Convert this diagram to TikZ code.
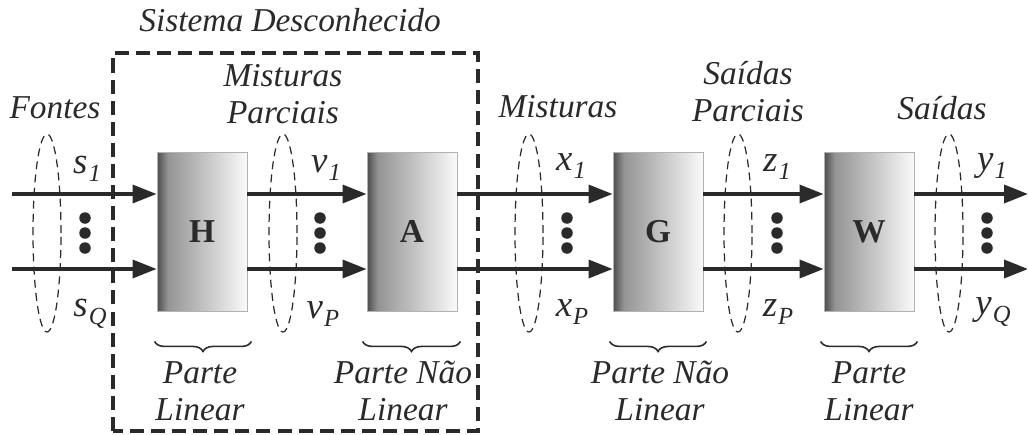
\documentclass[tikz,border=0pt]{standalone}
\usepackage{fontspec}
\setmainfont{Liberation Serif}
\usetikzlibrary{arrows.meta,decorations.pathreplacing,positioning}

\definecolor{ink}{HTML}{2A2A2A}
\newcommand{\sg}[2]{#1\kern.03em\raisebox{-.5ex}{\fontsize{14}{14}\selectfont #2}}

% sombreado dos blocos: escuro na borda esquerda, claro a direita
\pgfdeclarehorizontalshading{blkshade}{100bp}{color(0bp)=(black!70); color(25bp)=(black!70);
  color(31bp)=(black!42); color(75bp)=(black!2); color(100bp)=(black!2)}

\tikzset{
  blk/.style={draw=gray!60,line width=0.5pt,minimum width=1.8cm,minimum height=3.18cm,
    shading=blkshade,text=ink,font=\fontsize{19}{19}\selectfont\bfseries},
  sig/.style={draw=ink,line width=2pt,-{Triangle[length=0.48cm,width=0.36cm]}},
  grp/.style={draw=ink,line width=0.7pt,dash pattern=on 4.5pt off 3pt},
  lbl/.style={font=\fontsize{19}{21}\selectfont\itshape,text=ink,align=center},
  var/.style={font=\fontsize{21}{21}\selectfont\itshape,text=ink,inner sep=0pt},
  brc/.style={draw=ink,line width=0.9pt,decorate,decoration={brace,amplitude=0.2cm,mirror}},
}

\begin{document}
\begin{tikzpicture}
    \useasboundingbox (0,0) rectangle (20.56,8.68);

    % sistema desconhecido
    \draw[ink,line width=2pt,dash pattern=on 8pt off 4pt] (2.26,0.06) rectangle (9.56,7.62);
    \node[lbl] (sis) at (5.8,8.28) {Sistema Desconhecido};

    % blocos
    \node[blk] (H) at (4.04,4.05) {H};
    \node[blk] (A) at (8.24,4.05) {A};
    \node[blk] (G) at (13.16,4.05) {G};
    \node[blk] (W) at (17.38,4.05) {W};

    \coordinate (s1) at (0.24,4.8);
    \coordinate (sQ) at (0.24,3.3);
    \coordinate (y1) at (20.56,4.8);
    \coordinate (yQ) at (20.56,3.3);

    % sinais
    \draw[sig] (s1) -- ([yshift=.75cm]H.west);
    \draw[sig] (sQ) -- ([yshift=-.75cm]H.west);
    \draw[sig] ([yshift=.75cm]H.east) -- ([yshift=.75cm]A.west);
    \draw[sig] ([yshift=-.75cm]H.east) -- ([yshift=-.75cm]A.west);
    \draw[sig] ([yshift=.75cm]A.east) -- ([yshift=.75cm]G.west);
    \draw[sig] ([yshift=-.75cm]A.east) -- ([yshift=-.75cm]G.west);
    \draw[sig] ([yshift=.75cm]G.east) -- ([yshift=.75cm]W.west);
    \draw[sig] ([yshift=-.75cm]G.east) -- ([yshift=-.75cm]W.west);
    \draw[sig] ([yshift=.75cm]W.east) -- (y1);
    \draw[sig] ([yshift=-.75cm]W.east) -- (yQ);

    % conjuntos de sinais
    \foreach \x in {0.94,5.66,10.58,14.76,18.98}
        \draw[grp] (\x,4.02) ellipse (0.28 and 1.98);
    \foreach \x in {1.7,6.4,11.34,15.54,19.74}
        \foreach \y in {4.32,4.02,3.72}
            \fill[ink] (\x,\y) circle (0.115);

    \node[var] (ls1) at (1.74,5.3) {\sg{s}{1}};
    \node[var] (lsQ) at (1.8,2.4) {\sg{s}{Q}};
    \node[var] (lv1) at (6.52,5.32) {\sg{v}{1}};
    \node[var] (lvP) at (6.46,2.4) {\sg{v}{P}};
    \node[var] (lx1) at (11.42,5.36) {\sg{x}{1}};
    \node[var] (lxP) at (11.44,2.44) {\sg{x}{P}};
    \node[var] (lz1) at (15.54,5.34) {\sg{z}{1}};
    \node[var] (lzP) at (15.56,2.44) {\sg{z}{P}};
    \node[var] (ly1) at (19.84,5.36) {\sg{y}{1}};
    \node[var] (lyQ) at (19.86,2.44) {\sg{y}{Q}};

    \node[lbl] (fon) at (1.1,6.52) {Fontes};
    \node[lbl] (mpa) at (5.66,6.8) {Misturas\\Parciais};
    \node[lbl] (mis) at (11.16,6.54) {Misturas};
    \node[lbl] (spa) at (14.96,6.84) {Saídas\\Parciais};
    \node[lbl] (sai) at (18.84,6.52) {Saídas};

    % partes
    \draw[brc] ([xshift=-.04cm,yshift=-.6cm]H.south west) -- ([xshift=.08cm,yshift=-.6cm]H.south east);
    \draw[brc] ([xshift=-.08cm,yshift=-.6cm]A.south west) -- ([xshift=.06cm,yshift=-.6cm]A.south east);
    \draw[brc] ([xshift=-.06cm,yshift=-.6cm]G.south west) -- ([xshift=.06cm,yshift=-.6cm]G.south east);
    \draw[brc] ([xshift=-.06cm,yshift=-.6cm]W.south west) -- ([xshift=.06cm,yshift=-.6cm]W.south east);

    \node[lbl] (pH) at (4.0,0.86) {Parte\\Linear};
    \node[lbl] (pA) at (8.06,0.86) {Parte Não\\Linear};
    \node[lbl] (pG) at (13.2,0.86) {Parte Não\\Linear};
    \node[lbl] (pW) at (17.38,0.86) {Parte\\Linear};

\end{tikzpicture}
\end{document}
